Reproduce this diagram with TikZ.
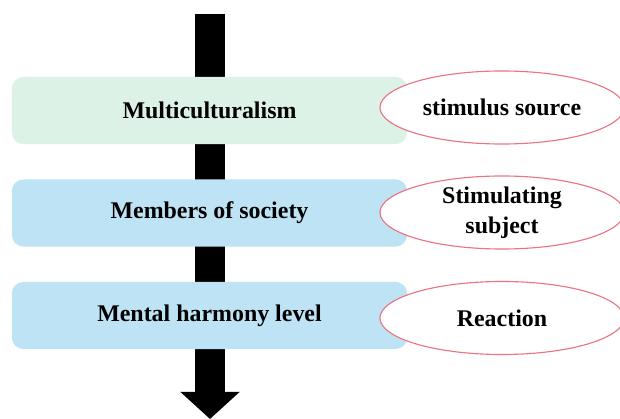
\documentclass[tikz,border=0pt]{standalone}
\usepackage{fontspec}
\setmainfont{Liberation Serif}
\usetikzlibrary{shapes.geometric,arrows.meta}
\definecolor{boxgreen}{HTML}{DCF2E7}
\definecolor{boxblue}{HTML}{BDE3F4}
\definecolor{ringred}{HTML}{EA7482}
\tikzset{
	level/.style={rectangle,rounded corners=8pt,draw=none,inner sep=0pt,
			minimum width=9.875cm,minimum height=1.675cm,
			font=\fontsize{17}{21}\selectfont\bfseries,align=center},
	role/.style={ellipse,draw=ringred,line width=0.8pt,fill=white,inner sep=0pt,
			minimum width=6.1cm,minimum height=1.825cm,
			font=\fontsize{17}{21}\selectfont\bfseries,align=center}
}

\begin{document}
\begin{tikzpicture}[x=0.025cm,y=-0.025cm]
		\useasboundingbox (0,0) rectangle (620,419);
		\coordinate (top) at (210,14);
		\coordinate (tip) at (210,419);
		% the flow arrow runs behind the boxes
		\draw [line width=0.75cm,-{Triangle[width=1.45cm,length=0.68cm]}] (top) -- (tip);
		\node [level,fill=boxgreen] (multi) at (209.5,110.5) {Multiculturalism};
		\node [level,fill=boxblue] (members) at (209.5,213) {Members of society};
		\node [level,fill=boxblue] (mental) at (209.5,315.5) {Mental harmony level};
		\node [role] (source) at (502,107.5) {stimulus source};
		\node [role] (subject) at (502,212.5) {Stimulating\\subject};
		\node [role] (reaction) at (502,318) {Reaction};
	\end{tikzpicture}
\end{document}
